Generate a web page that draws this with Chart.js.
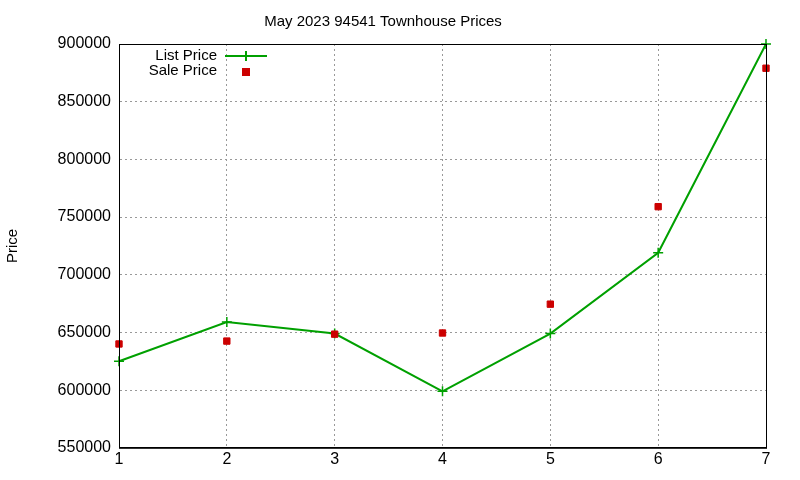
<!DOCTYPE html>
<html><head><meta charset="utf-8">
<script src="https://cdn.jsdelivr.net/npm/chart.js@4/dist/chart.umd.min.js"></script>
<style>html,body{margin:0;background:#fff}#w{width:800px;height:480px}</style>
</head><body><div id="w"><canvas id="c"></canvas></div>
<script>
const categories = [1, 2, 3, 4, 5, 6, 7];
const listPrice = [625000, 659000, 649000, 599000, 649000, 719000, 900000];
const salePrice = [640000, 642500, 648500, 649500, 674500, 759000, 879000];
const seriesNames = ['List Price', 'Sale Price'];
const FONT = 'Liberation Sans, Arial, sans-serif';

const legendPlugin = {
  id: 'gpLegend',
  afterDraw(chart) {
    const ctx = chart.ctx;
    ctx.save();
    ctx.font = '15px ' + FONT;
    ctx.fillStyle = '#000';
    ctx.textAlign = 'right';
    ctx.textBaseline = 'middle';
    ctx.fillText(seriesNames[0], 217, 56);
    ctx.fillText(seriesNames[1], 217, 71);
    ctx.strokeStyle = '#00a000'; ctx.lineWidth = 2;
    ctx.beginPath(); ctx.moveTo(225, 56); ctx.lineTo(267, 56); ctx.stroke();
    ctx.beginPath(); ctx.moveTo(246, 51); ctx.lineTo(246, 61); ctx.moveTo(241, 56); ctx.lineTo(251, 56); ctx.stroke();
    ctx.fillStyle = '#cc0000'; ctx.fillRect(242, 68, 8, 8);
    ctx.restore();
  }
};

new Chart(document.getElementById('c'), {
  type: 'scatter',
  data: {
    datasets: [
      { label: seriesNames[0], data: categories.map((x, i) => ({x, y: listPrice[i]})), showLine: true, clip: false,
        borderColor: '#00a000', backgroundColor: '#00a000', borderWidth: 2, pointStyle: 'cross', pointRadius: 5, pointBorderWidth: 1.5, order: 1 },
      { label: seriesNames[1], data: categories.map((x, i) => ({x, y: salePrice[i]})), showLine: false, clip: false,
        borderColor: '#cc0000', backgroundColor: '#cc0000', pointStyle: 'rect', pointRadius: 4.5, order: 0 }
    ]
  },
  options: {
    responsive: true, maintainAspectRatio: false, animation: false,
    layout: { padding: { top: 9, right: 34, left: 0, bottom: 9 } },
    plugins: {
      legend: { display: false }, tooltip: { enabled: false },
      title: { display: true, text: 'May 2023 94541 Townhouse Prices', color: '#000', font: { family: FONT, size: 15, weight: 'normal' }, padding: { top: 4, bottom: 13 } }
    },
    scales: {
      x: { type: 'linear', min: 1, max: 7,
        ticks: { stepSize: 1, color: '#000', font: { family: FONT, size: 16 }, padding: 2 },
        grid: { color: '#999', tickLength: 0, lineWidth: 1 },
        border: { color: '#000', dash: [2, 3], display: true } },
      y: { min: 550000, max: 900000,
        afterFit: s => { s.width = 119; },
        ticks: { stepSize: 50000, color: '#000', font: { family: FONT, size: 16 }, padding: 8,
          callback: v => String(v) },
        grid: { color: '#999', tickLength: 0 },
        border: { color: '#000', dash: [2, 3] },
        title: { display: true, text: 'Price', color: '#000', font: { family: FONT, size: 15 }, padding: { bottom: 20 } } }
    }
  },
  plugins: [legendPlugin, {
    id: 'frame',
    afterDraw(chart) {
      const a = chart.chartArea, ctx = chart.ctx;
      ctx.save(); ctx.strokeStyle = '#000'; ctx.lineWidth = 1; ctx.setLineDash([]);
      ctx.strokeRect(a.left + 0.5, a.top + 0.5, a.right - a.left, a.bottom - a.top);
      ctx.restore();
    }
  }]
});
</script></body></html>
